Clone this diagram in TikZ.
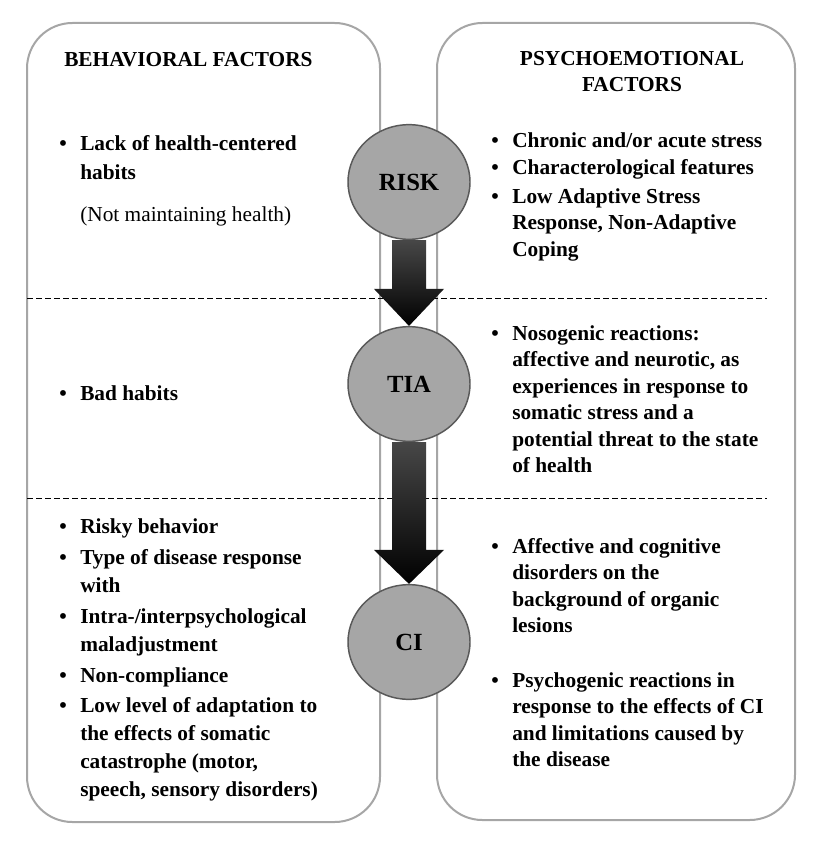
\documentclass[tikz,border=0pt]{standalone}
\usepackage{fontspec}
\setmainfont{Liberation Serif}
\usetikzlibrary{positioning, shapes.geometric, calc}

% lines of one item, aligned on the first baseline
\newcommand{\factorlines}[1]{\begin{tabular}[t]{@{}l@{}}#1\end{tabular}}

\tikzset{
  factorbox/.style={draw=black!35, line width=1.5pt, rounded corners=34pt, fill=white},
  sepline/.style={draw=black, line width=0.75pt, dash pattern=on 4.5pt off 2.25pt},
  stage/.style={ellipse, draw=black!65, line width=1.1pt, fill=black!35,
    minimum width=91.5pt, minimum height=86pt, inner sep=0pt,
    font=\fontsize{18.5}{22}\selectfont\bfseries},
  blockarrow/.style={top color=black!72, middle color=black, bottom color=black},
  headtext/.style={inner sep=0pt, font=\fontsize{16}{19.5}\selectfont\bfseries},
  lefttext/.style={anchor=base west, inner sep=0pt, font=\fontsize{16}{21}\selectfont\bfseries},
  righttext/.style={anchor=base west, inner sep=0pt, font=\fontsize{16}{19.9}\selectfont\bfseries},
  bulletmark/.style={anchor=base east, inner sep=0pt, font=\fontsize{16}{19}\selectfont\bfseries}
}

\begin{document}
\begin{tikzpicture}[x=0.75pt, y=-0.75pt]
  \useasboundingbox (0,0) rectangle (835,845);

  % Factor columns
  \draw[factorbox] (27,23) rectangle (380,822);
  \draw[factorbox] (437,23) rectangle (795,820);

  % Separators
  \draw[sepline] (27,298) -- (767,298);
  \draw[sepline] (27,498) -- (767,498);

  % Stages
  \node[stage] (risk) at (409,182) {RISK};
  \node[stage] (tia) at (409,384) {TIA};
  \node[stage] (ci) at (409,642) {CI};

  % Arrows between stages
  \shade[blockarrow] ($(risk.south)+(-17,0)$) -- ($(tia.north)+(-17,-37)$) -- ($(tia.north)+(-35,-37)$)
    -- (tia.north) -- ($(tia.north)+(35,-37)$) -- ($(tia.north)+(17,-37)$) -- ($(risk.south)+(17,0)$) -- cycle;
  \shade[blockarrow] ($(tia.south)+(-17,0)$) -- ($(ci.north)+(-17,-34)$) -- ($(ci.north)+(-35,-34)$)
    -- (ci.north) -- ($(ci.north)+(35,-34)$) -- ($(ci.north)+(17,-34)$) -- ($(tia.south)+(17,0)$) -- cycle;

  % Headings
  \node[headtext, anchor=base west] (behav) at (64,67) {BEHAVIORAL FACTORS};
  \node[headtext, anchor=base] (psycho) at (632,66) {\begin{tabular}[t]{@{}c@{}}PSYCHOEMOTIONAL\\FACTORS\end{tabular}};

  % Behavioral factors
  \node[lefttext] (l1) at (80,151) {\factorlines{Lack of health-centered\\habits}};
  \node[lefttext, font=\fontsize{16}{21}\selectfont] (lnote) at (80,221) {(Not maintaining health)};
  \node[lefttext] (l2) at (80,400) {Bad habits};
  \node[lefttext] (l3) at (80,533) {Risky behavior};
  \node[lefttext] (l4) at (80,564) {\factorlines{Type of disease response\\with}};
  \node[lefttext] (l5) at (80,623) {\factorlines{Intra-/interpsychological\\maladjustment}};
  \node[lefttext] (l6) at (80,682) {Non-compliance};
  \node[lefttext] (l7) at (80,712) {\factorlines{Low level of adaptation to\\the effects of somatic\\catastrophe (motor,\\speech, sensory disorders)}};

  % Psychoemotional factors
  \node[righttext] (r1) at (512,147) {Chronic and/or acute stress};
  \node[righttext] (r2) at (512,175) {Characterological features};
  \node[righttext] (r3) at (512,203) {\factorlines{Low Adaptive Stress\\Response, Non-Adaptive\\Coping}};
  \node[righttext] (r4) at (512,340) {\factorlines{Nosogenic reactions:\\affective and neurotic, as\\experiences in response to\\somatic stress and a\\potential threat to the state\\of health}};
  \node[righttext] (r5) at (512,553) {\factorlines{Affective and cognitive\\disorders on the\\background of organic\\lesions}};
  \node[righttext] (r6) at (512,687) {\factorlines{Psychogenic reactions in\\response to the effects of CI\\and limitations caused by\\the disease}};

  % Bullets
  \foreach \t in {l1,l2,l3,l4,l5,l6,l7,r1,r2,r3,r4,r5,r6}
    \node[bulletmark] (b-\t) at ($(\t.base west)+(-13,0)$) {\textbullet};
\end{tikzpicture}
\end{document}
